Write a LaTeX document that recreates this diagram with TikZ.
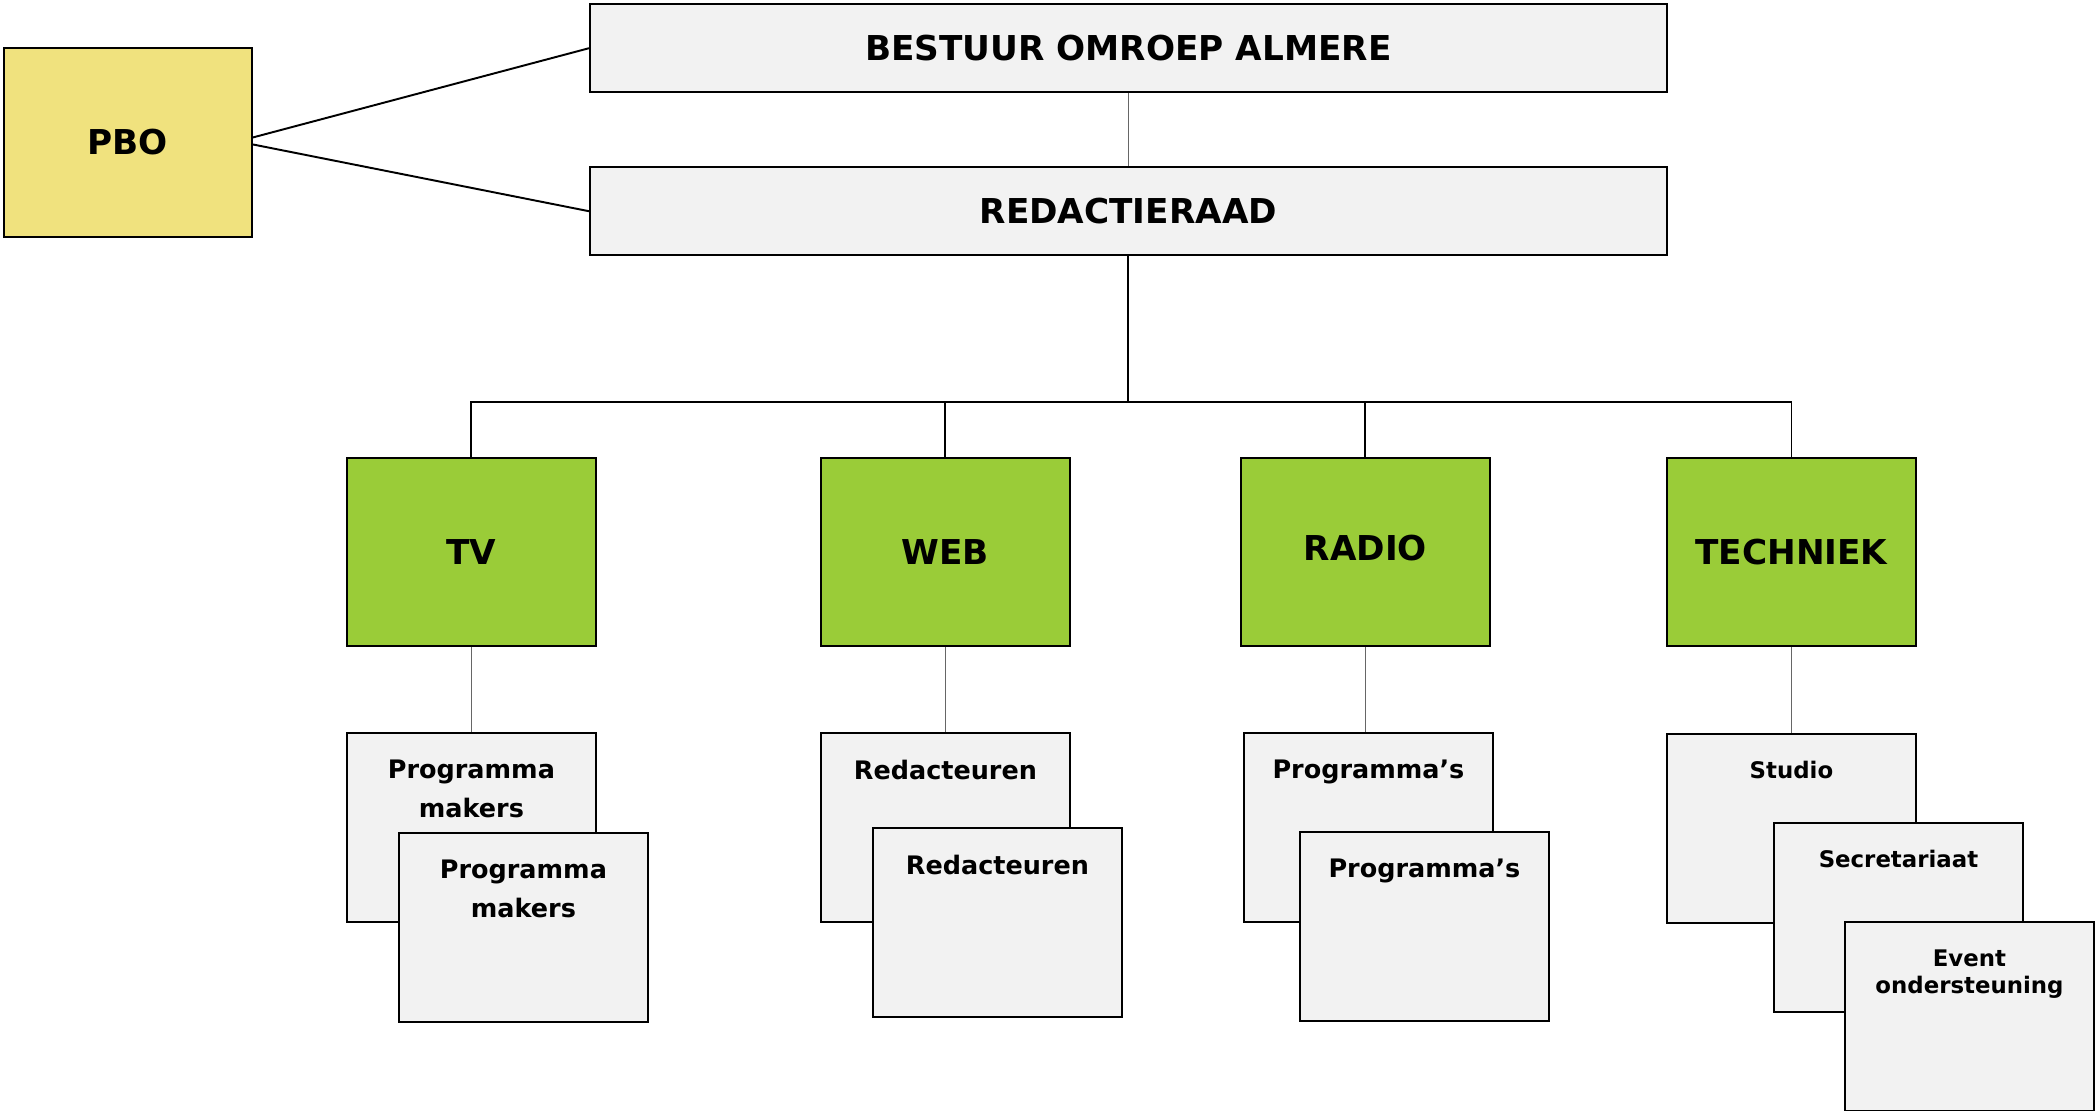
\documentclass[tikz,border=0pt]{standalone}
\usepackage{fontspec}
\setmainfont{DejaVu Sans}
\usetikzlibrary{calc}
\definecolor{kader}{rgb}{0.949,0.949,0.949}
\definecolor{geel}{HTML}{F0E27E}
\definecolor{groen}{HTML}{9ACC38}

\begin{document}
\begin{tikzpicture}[x=0.02cm, y=-0.02cm,
    box/.style={draw=black, line width=1.1pt, fill=kader, inner sep=0pt, anchor=north west,
        font=\bfseries\fontsize{19.5}{23}\selectfont},
    hoofd/.style={box, minimum width=21.54cm, minimum height=1.77cm},
    afdeling/.style={box, fill=groen, minimum width=4.98cm, minimum height=3.76cm},
    team/.style={box, minimum width=4.98cm, minimum height=3.78cm},
    teamtekst/.style={anchor=north, yshift=-0.56cm, inner sep=0pt, align=center,
        font=\bfseries\fontsize{14.5}{22}\selectfont},
    kleintekst/.style={teamtekst, font=\bfseries\fontsize{13}{15.5}\selectfont},
    lijn/.style={black, line width=1.1pt},
    dunlijn/.style={black!60, line width=0.6pt}]

    \useasboundingbox (0,0) rectangle (2095,1110);

    \node[box, fill=geel, minimum width=4.96cm, minimum height=3.78cm] (pbo) at (3,47) {PBO};
    \node[hoofd] (bestuur) at (589,3) {BESTUUR OMROEP ALMERE};
    \node[hoofd] (redactie) at (589,166) {REDACTIERAAD};

    \node[afdeling] (tv) at (346,457) {TV};
    \node[afdeling] (web) at (820,457) {WEB};
    \node[afdeling] (radio) at (1240,457) {\raisebox{0.18cm}{RADIO}};
    \node[afdeling] (techniek) at (1666,457) {TECHNIEK};

    \node[team, label={[teamtekst]north:Programma\\makers}] (tv1) at (346,732) {};
    \node[team, label={[teamtekst]north:Programma\\makers}] (tv2) at (398,832) {};
    \node[team, label={[teamtekst]north:Redacteuren}] (web1) at (820,732) {};
    \node[team, label={[teamtekst]north:Redacteuren}] (web2) at (872,827) {};
    \node[team, label={[teamtekst]north:Programma’s}] (radio1) at (1243,732) {};
    \node[team, label={[teamtekst]north:Programma’s}] (radio2) at (1299,831) {};
    \node[team, label={[kleintekst]north:Studio}] (tech1) at (1666,733) {};
    \node[team, label={[kleintekst]north:Secretariaat}] (tech2) at (1773,822) {};
    \node[team, label={[kleintekst]north:Event\\ondersteuning}] (tech3) at (1844,921) {};

    \coordinate (bus) at ($(redactie.south)+(0,146)$);

    \draw[lijn] ($(pbo.east)+(0,-5)$) -- (bestuur.west);
    \draw[lijn] ($(pbo.east)+(0,2)$) -- (redactie.west);
    \draw[dunlijn] (bestuur.south) -- (redactie.north);
    \draw[lijn] (redactie.south) -- (bus);
    \draw[lijn] (tv.north) |- (bus) -| (techniek.north);
    \draw[lijn] (web.north) -- (web.north |- bus);
    \draw[lijn] (radio.north) -- (radio.north |- bus);

    \draw[dunlijn] (tv.south) -- (tv1.north);
    \draw[dunlijn] (web.south) -- (web1.north);
    \draw[dunlijn] (radio.south) -- (radio.south |- radio1.north);
    \draw[dunlijn] (techniek.south) -- (tech1.north);
\end{tikzpicture}
\end{document}
